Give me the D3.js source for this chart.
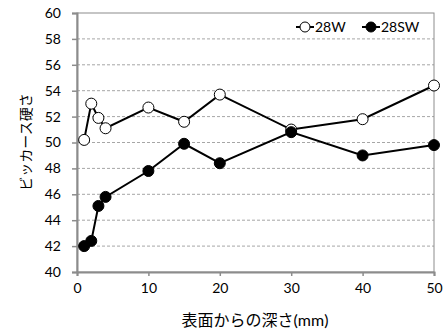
<!DOCTYPE html>
<html><head><meta charset="utf-8">
<script src="https://cdn.jsdelivr.net/npm/d3@7/dist/d3.min.js"></script>
<style>body{margin:0;background:#fff;} text{font-family:Lato,"Noto Sans CJK JP",sans-serif;}</style>
</head><body><svg id="c" width="448" height="331"></svg>
<script>
const depths = [1, 2, 3, 4, 10, 15, 20, 30, 40, 50];
const w28 = [50.2, 53.0, 51.9, 51.1, 52.7, 51.6, 53.7, 51.0, 51.8, 54.4];
const sw28 = [42.0, 42.4, 45.1, 45.8, 47.8, 49.9, 48.4, 50.8, 49.0, 49.8];
const seriesNames = ["28W", "28SW"];
const yTicks = [40, 42, 44, 46, 48, 50, 52, 54, 56, 58, 60];
const xTicks = [0, 10, 20, 30, 40, 50];

const svg = d3.select("#c");
const L = 77, R = 434, T = 13, B = 272;
const x = d3.scaleLinear().domain([0, 50]).range([L, R]);
const y = d3.scaleLinear().domain([40, 60]).range([B, T]);

// gridlines
svg.append("g").selectAll("line").data(yTicks.slice(1, -1)).join("line")
  .attr("x1", L).attr("x2", R).attr("y1", d => y(d)).attr("y2", d => y(d))
  .attr("stroke", "#a6a6a6").attr("stroke-width", 1).attr("stroke-dasharray", "3,2");
// frame
svg.append("rect").attr("x", L).attr("y", T).attr("width", R - L).attr("height", B - T)
  .attr("fill", "none").attr("stroke", "#8c8c8c").attr("stroke-width", 1);

const yAxis = svg.append("g").attr("transform", `translate(${L},0)`)
  .call(d3.axisLeft(y).tickValues(yTicks).tickSize(5).tickPadding(11));
const xAxis = svg.append("g").attr("transform", `translate(0,${B})`)
  .call(d3.axisBottom(x).tickValues(xTicks).tickSize(4).tickPadding(7));
[yAxis, xAxis].forEach(a => {
  a.select(".domain").attr("stroke", "#8c8c8c").attr("stroke-width", 2);
  a.selectAll(".tick line").attr("stroke", "#8c8c8c").attr("stroke-width", 1.5);
  a.selectAll("text").attr("font-size", 14).attr("fill", "#000")
    .style("font-family", 'Lato,"Noto Sans CJK JP",sans-serif');
});

const line = d3.line().x((d, i) => x(depths[i])).y(d => y(d));
const data = [{vals: w28, fill: "#fff"}, {vals: sw28, fill: "#000"}];
data.forEach(s => {
  svg.append("path").datum(s.vals).attr("d", line).attr("fill", "none")
    .attr("stroke", "#000").attr("stroke-width", 2);
});
data.forEach(s => {
  svg.append("g").selectAll("circle").data(s.vals).join("circle")
    .attr("cx", (d, i) => x(depths[i])).attr("cy", d => y(d)).attr("r", 5.5)
    .attr("fill", s.fill).attr("stroke", "#000").attr("stroke-width", 1);
});

// legend
const lg = [{name: seriesNames[0], fill: "#fff", cx: 305}, {name: seriesNames[1], fill: "#000", cx: 371}];
lg.forEach(l => {
  svg.append("line").attr("x1", l.cx - 9).attr("x2", l.cx + 9).attr("y1", 27).attr("y2", 27)
    .attr("stroke", "#000").attr("stroke-width", 2);
  svg.append("circle").attr("cx", l.cx).attr("cy", 27).attr("r", 5)
    .attr("fill", l.fill).attr("stroke", "#000").attr("stroke-width", 1);
  svg.append("text").attr("x", l.cx + 10).attr("y", 32).attr("font-size", 14).text(l.name);
});

// axis titles
svg.append("text").attr("x", 255).attr("y", 326).attr("text-anchor", "middle")
  .attr("font-size", 16).text("表面からの深さ(mm)");
svg.append("text").attr("transform", "translate(31,142) rotate(-90)").attr("text-anchor", "middle")
  .attr("font-size", 14).text("ビッカース硬さ");
</script></body></html>
